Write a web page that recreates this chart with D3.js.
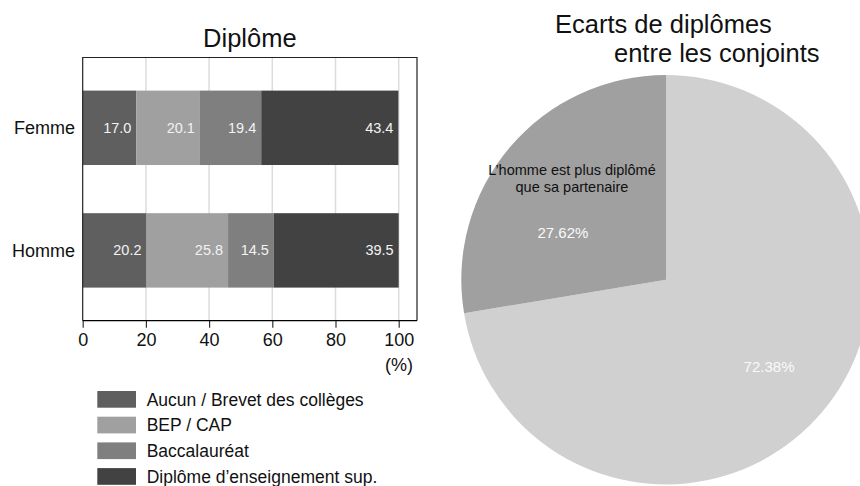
<!DOCTYPE html>
<html>
<head>
<meta charset="utf-8">
<script src="https://cdn.jsdelivr.net/npm/d3@7"></script>
<style>
  html, body { margin: 0; padding: 0; background: #fff; }
  svg { display: block; font-family: "Liberation Sans", Arial, sans-serif; }
</style>
</head>
<body>
<svg id="chart" width="860" height="486"></svg>
<script>
// Bar chart data: share of each diploma level by sex (%)
const categories = ["Femme", "Homme"];
const levels = ["Aucun / Brevet des collèges", "BEP / CAP", "Baccalauréat", "Diplôme d’enseignement sup."];
const femmeValues = [17.0, 20.1, 19.4, 43.4];
const hommeValues = [20.2, 25.8, 14.5, 39.5];
const levelColors = ["#5f5f5f", "#a0a0a0", "#7f7f7f", "#424242"];
const xTicks = [0, 20, 40, 60, 80, 100];

// Pie data: diploma gap between partners (%)
const pieLabels = ["", "L’homme est plus diplômé|que sa partenaire"];
const pieValues = [72.38, 27.62];
const pieColors = ["#d0d0d0", "#a0a0a0"];

const svg = d3.select("#chart");
const font = "'Liberation Sans', Arial, sans-serif";

// ---------- Stacked bar panel ----------
const frame = { left: 82.7, right: 417, top: 57.5, bottom: 320.7 };
const x = d3.scaleLinear().domain([0, 100]).range([frame.left, 398.7]);
const y = d3.scaleBand().domain(categories).range([frame.top, frame.bottom])
  .paddingInner(0.393).paddingOuter(0.27);

const rows = categories.map((c, i) => {
  const vals = i === 0 ? femmeValues : hommeValues;
  const r = { cat: c };
  levels.forEach((l, j) => r[l] = vals[j]);
  return r;
});
const stacked = d3.stack().keys(levels)(rows);

// gridlines
svg.append("g").selectAll("line").data(xTicks.filter(t => t > 0)).join("line")
  .attr("x1", d => x(d)).attr("x2", d => x(d))
  .attr("y1", frame.top).attr("y2", frame.bottom)
  .attr("stroke", "#dcdcdc").attr("stroke-width", 1.5);

// bars
const layers = svg.append("g").selectAll("g").data(stacked).join("g")
  .attr("fill", (d, i) => levelColors[i]);
layers.selectAll("rect").data(d => d.map(p => ({ p, key: d.key }))).join("rect")
  .attr("x", d => x(d.p[0]))
  .attr("width", d => x(d.p[1]) - x(d.p[0]))
  .attr("y", d => y(d.p.data.cat))
  .attr("height", y.bandwidth());

// value labels inside segments
layers.selectAll("text").data(d => d.map(p => ({ p, key: d.key }))).join("text")
  .attr("x", d => x(d.p[1]) - 5)
  .attr("y", d => y(d.p.data.cat) + y.bandwidth() / 2)
  .attr("dy", "0.35em")
  .attr("text-anchor", "end")
  .attr("fill", "#f2f2f2")
  .attr("font-size", "14.5px")
  .text(d => (d.p.data[d.key]).toFixed(1));

// frame (top, left, right)
svg.append("path")
  .attr("d", `M${frame.left},${frame.bottom}V${frame.top}H${frame.right}V${frame.bottom}`)
  .attr("fill", "none").attr("stroke", "#222").attr("stroke-width", 1.2);

// x axis
const xAxis = svg.append("g").attr("transform", `translate(0,${frame.bottom})`)
  .call(d3.axisBottom(x).tickValues(xTicks).tickSize(7).tickPadding(5.5).tickSizeOuter(0));
xAxis.select(".domain").remove();
xAxis.append("line").attr("x1", frame.left).attr("x2", frame.right)
  .attr("stroke", "#000").attr("stroke-width", 1.2);
xAxis.selectAll(".tick line").attr("stroke", "#333").attr("stroke-width", 1.2);
xAxis.selectAll(".tick text").attr("font-size", "18px").attr("font-family", font).attr("fill", "#111");

svg.append("text").attr("x", 413).attr("y", 371)
  .attr("text-anchor", "end").attr("font-size", "18px").attr("fill", "#111").text("(%)");

// y category labels
svg.append("g").selectAll("text").data(categories).join("text")
  .attr("x", 75).attr("y", d => y(d) + y.bandwidth() / 2).attr("dy", "0.35em")
  .attr("text-anchor", "end").attr("font-size", "18px").attr("fill", "#111")
  .text(d => d);

// title
svg.append("text").attr("x", (frame.left + frame.right) / 2).attr("y", 47)
  .attr("text-anchor", "middle").attr("font-size", "25.5px").attr("fill", "#111")
  .text("Diplôme");

// legend
const legend = svg.append("g").selectAll("g").data(levels).join("g")
  .attr("transform", (d, i) => `translate(97.3,${391 + i * 25.7})`);
legend.append("rect").attr("width", 38.7).attr("height", 16.7)
  .attr("fill", (d, i) => levelColors[i]);
legend.append("text").attr("x", 49.4).attr("y", 8.6).attr("dy", "0.35em")
  .attr("font-size", "17.5px").attr("fill", "#111").text(d => d);

// ---------- Pie panel ----------
const cx = 666, cy = 279.7, R = 204.7;
const pie = d3.pie().sort(null).value(d => d);
const arcs = pie(pieValues);
const arc = d3.arc().innerRadius(0).outerRadius(R);
const labelArc = d3.arc().innerRadius(R * 0.66).outerRadius(R * 0.66);

const pg = svg.append("g").attr("transform", `translate(${cx},${cy})`);
pg.selectAll("path").data(arcs).join("path")
  .attr("d", arc).attr("fill", (d, i) => pieColors[i]);

// percentage labels
pg.selectAll("text.pct").data(arcs).join("text").attr("class", "pct")
  .attr("x", d => labelArc.centroid(d)[0])
  .attr("y", (d, i) => labelArc.centroid(d)[1] + (pieLabels[i] ? 40 : 0))
  .attr("dy", "0.35em").attr("text-anchor", "middle")
  .attr("font-size", "15px").attr("fill", "#fafafa")
  .text(d => d.value.toFixed(2) + "%");

// slice names
arcs.forEach((d, i) => {
  if (!pieLabels[i]) return;
  const [lx, ly] = labelArc.centroid(d);
  const t = pg.append("text").attr("text-anchor", "middle")
    .attr("font-size", "14.5px").attr("fill", "#111");
  pieLabels[i].split("|").forEach((line, k) => {
    t.append("tspan").attr("x", lx + 9).attr("y", ly - 22 + k * 17).attr("dy", "0.35em").text(line);
  });
});

// title
const pt = svg.append("text").attr("font-size", "25.5px").attr("fill", "#111");
pt.append("tspan").attr("x", 555).attr("y", 33).text("Ecarts de diplômes");
pt.append("tspan").attr("x", 614).attr("y", 62).text("entre les conjoints");
</script>
</body>
</html>
